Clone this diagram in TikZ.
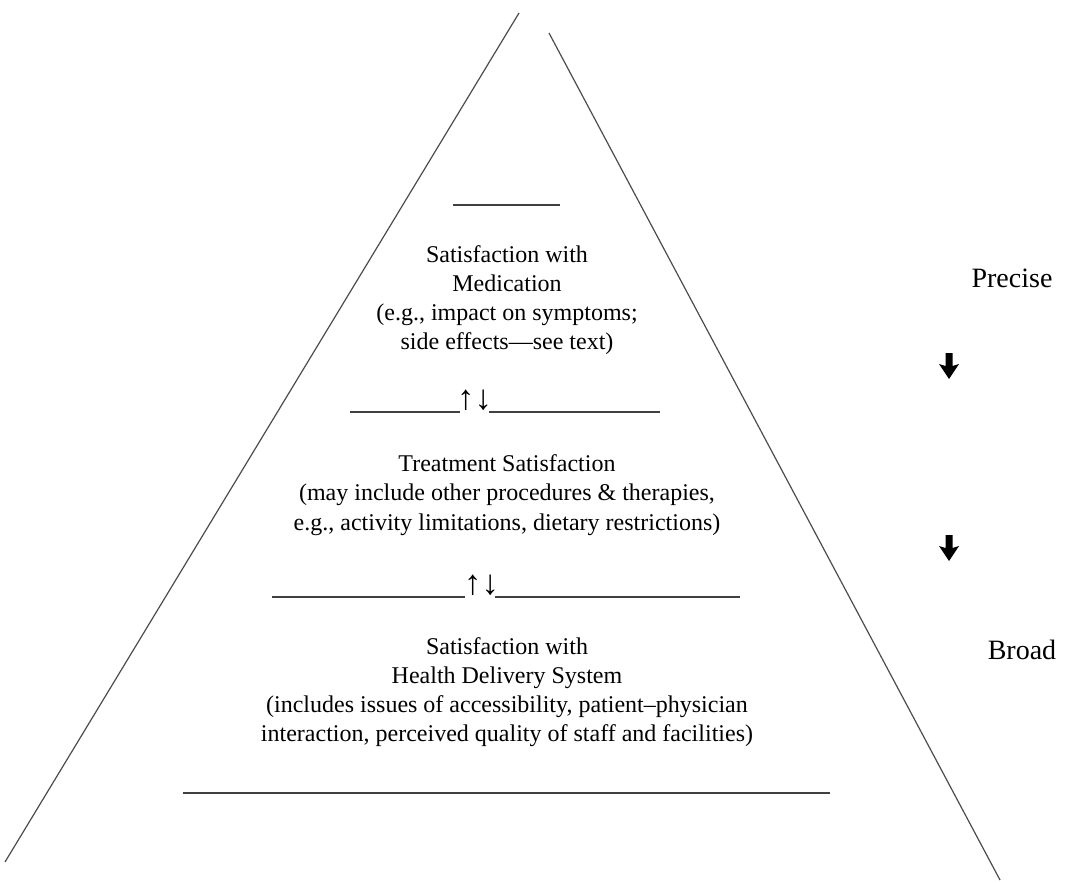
\documentclass[tikz,border=0pt]{standalone}
\usepackage{fontspec}
\setmainfont{Liberation Serif}
\begin{document}
\begin{tikzpicture}[x=0.75pt,y=-0.75pt]
  \useasboundingbox (0,0) rectangle (1066,882);

  % sides of the pyramid
  \draw[black!70, line width=0.9pt] (519,13) -- (5,862);
  \draw[black!70, line width=0.9pt] (549,33) -- (1000,880);

  \begin{scope}[every node/.style={align=center, inner sep=0pt, font=\fontsize{18}{21.9}\selectfont}]
    \node (med) at (507,300) {Satisfaction with\\ Medication\\ (e.g., impact on symptoms;\\ side effects---see text)};
    \node (treat) at (507,495) {Treatment Satisfaction\\ (may include other procedures \& therapies,\\ e.g., activity limitations, dietary restrictions)};
    \node (health) at (507,692) {Satisfaction with\\ Health Delivery System\\ (includes issues of accessibility, patient--physician\\ interaction, perceived quality of staff and facilities)};
    \node[anchor=south, font=\fontsize{26}{26}\selectfont] (ud1) at (474.5,411) {↑↓};
    \node[anchor=south, font=\fontsize{26}{26}\selectfont] (ud2) at (481.5,596) {↑↓};
  \end{scope}

  \begin{scope}[black!75, line width=1.2pt]
    \draw (453,205) -- (560,205);
    \draw (350,412) -- (460,412);
    \draw (489,412) -- (660,412);
    \draw (272,597) -- (465,597);
    \draw (495,597) -- (740,597);
    \draw (183,793) -- (830,793);
  \end{scope}

  \node[font=\fontsize{21}{25}\selectfont] (precise) at (1012,278) {Precise};
  \node[font=\fontsize{21}{25}\selectfont] (broad) at (1022,650) {Broad};

  \foreach \y in {366,548}
    \fill (945.5,\y-13) -- (952.5,\y-13) -- (952.5,\y) -- (959,\y-2) -- (949,\y+13) -- (939,\y-2) -- (945.5,\y) -- cycle;
\end{tikzpicture}
\end{document}
